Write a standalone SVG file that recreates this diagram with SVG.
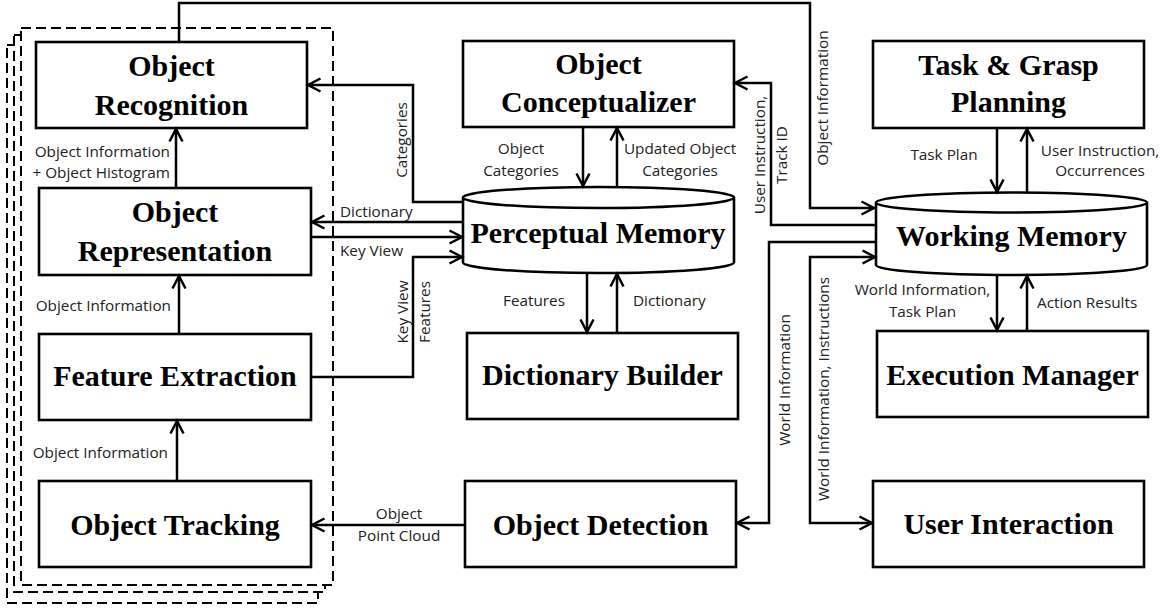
<svg xmlns="http://www.w3.org/2000/svg" width="1171" height="608" viewBox="0 0 1171 608">
<style>
.box{fill:#fff;stroke:#000;stroke-width:2.6}
.frame{fill:#fff;stroke:#000;stroke-width:2;stroke-dasharray:10,5}
.node{font-family:"Liberation Serif","Times New Roman",serif;font-weight:bold;font-size:30px;fill:#000;text-anchor:middle}
.lbl{font-family:"Open Sans","Noto Sans",sans-serif;font-size:15.3px;fill:#222}
.mid{text-anchor:middle}
.end{text-anchor:end}
.conn{fill:none;stroke:#000;stroke-width:2.5;marker-end:url(#arr)}
</style>
<defs>
<marker id="arr" markerUnits="userSpaceOnUse" markerWidth="20" markerHeight="20" viewBox="0 0 20 20" refX="14" refY="8" orient="auto-start-reverse">
<path d="M1.5,1.5 L14,8 L1.5,14.5" fill="none" stroke="#000" stroke-width="2.5"/>
</marker>
</defs>
<rect width="1171" height="608" fill="#fff"/>
<g id="stack">
<rect class="frame" x="7" y="45" width="311" height="558"/>
<rect class="frame" x="14" y="35" width="311" height="557"/>
<rect class="frame" x="21" y="28" width="312" height="557"/>
</g>
<g id="object-recognition">
<rect class="box" x="36" y="42" width="271" height="86"/>
<text class="node" x="171.5" y="76">Object</text>
<text class="node" x="171.5" y="115">Recognition</text>
</g>
<g id="object-representation">
<rect class="box" x="39" y="188" width="272" height="87"/>
<text class="node" x="175" y="222">Object</text>
<text class="node" x="175" y="261">Representation</text>
</g>
<g id="feature-extraction">
<rect class="box" x="39" y="334" width="272" height="86"/>
<text class="node" x="175" y="386">Feature Extraction</text>
</g>
<g id="object-tracking">
<rect class="box" x="39" y="481" width="272" height="86"/>
<text class="node" x="175" y="535">Object Tracking</text>
</g>
<g id="object-conceptualizer">
<rect class="box" x="463" y="41" width="271" height="86"/>
<text class="node" x="598.5" y="74">Object</text>
<text class="node" x="598.5" y="112">Conceptualizer</text>
</g>
<g id="perceptual-memory">
<path class="box" d="M463,197.5 V262.5 A135.5,10.5 0 0 0 734,262.5 V197.5 A135.5,10.5 0 0 0 463,197.5 A135.5,10.5 0 0 0 734,197.5"/>
<text class="node" x="598" y="243">Perceptual Memory</text>
</g>
<g id="dictionary-builder">
<rect class="box" x="467" y="333" width="271" height="86"/>
<text class="node" x="602.5" y="385">Dictionary Builder</text>
</g>
<g id="object-detection">
<rect class="box" x="465" y="481" width="271" height="86"/>
<text class="node" x="600.5" y="535">Object Detection</text>
</g>
<g id="task-grasp-planning">
<rect class="box" x="873" y="41" width="271" height="87"/>
<text class="node" x="1008.5" y="75">Task &amp; Grasp</text>
<text class="node" x="1008.5" y="112">Planning</text>
</g>
<g id="working-memory">
<path class="box" d="M876,202.5 V265 A135.5,10 0 0 0 1147,265 V202.5 A135.5,10 0 0 0 876,202.5 A135.5,10 0 0 0 1147,202.5"/>
<text class="node" x="1011.5" y="246">Working Memory</text>
</g>
<g id="execution-manager">
<rect class="box" x="877" y="331" width="271" height="86"/>
<text class="node" x="1012.5" y="385">Execution Manager</text>
</g>
<g id="user-interaction">
<rect class="box" x="873" y="481" width="271" height="86"/>
<text class="node" x="1008.5" y="534">User Interaction</text>
</g>
<g id="connectors">
<path class="conn" d="M179,42 V3 H810 V208 H874"/>
<path class="conn" d="M463,202 H413 V85 H308"/>
<path class="conn" d="M463,222 H312"/>
<path class="conn" d="M311,237 H462"/>
<path class="conn" d="M311,377 H413 V257 H462"/>
<path class="conn" d="M583,127 V186"/>
<path class="conn" d="M617,187 V128"/>
<path class="conn" d="M587,273 V332"/>
<path class="conn" d="M617,333 V274"/>
<path class="conn" d="M876,225 H771 V83 H735"/>
<path class="conn" d="M876,242 H769 V523 H737"/>
<path class="conn" d="M875,257 H810 V523 H872" style="marker-start:url(#arr)"/>
<path class="conn" d="M997,128 V192"/>
<path class="conn" d="M1027,193 V129"/>
<path class="conn" d="M997,275 V330"/>
<path class="conn" d="M1027,331 V276"/>
<path class="conn" d="M177,481 V421"/>
<path class="conn" d="M179,334 V276"/>
<path class="conn" d="M176,188 V129"/>
<path class="conn" d="M465,525 H312"/>
</g>
<g id="labels">
<text class="lbl end" x="170" y="157">Object Information</text>
<text class="lbl end" x="170" y="178">+ Object Histogram</text>
<text class="lbl end" x="171" y="311">Object Information</text>
<text class="lbl end" x="168" y="458">Object Information</text>
<text class="lbl" x="340" y="217">Dictionary</text>
<text class="lbl" x="340" y="256">Key View</text>
<text class="lbl mid" transform="translate(407,140) rotate(-90)">Categories</text>
<text class="lbl mid" transform="translate(408,312) rotate(-90)">Key View</text>
<text class="lbl mid" transform="translate(430,312) rotate(-90)">Features</text>
<text class="lbl mid" x="521" y="154">Object</text>
<text class="lbl mid" x="521" y="176">Categories</text>
<text class="lbl mid" x="680" y="154">Updated Object</text>
<text class="lbl mid" x="680" y="176">Categories</text>
<text class="lbl mid" x="534" y="306">Features</text>
<text class="lbl" x="633" y="306">Dictionary</text>
<text class="lbl mid" x="399" y="519">Object</text>
<text class="lbl mid" x="399" y="541">Point Cloud</text>
<text class="lbl mid" transform="translate(765,155) rotate(-90)">User Instruction,</text>
<text class="lbl mid" transform="translate(787,155) rotate(-90)">Track ID</text>
<text class="lbl mid" transform="translate(828,98) rotate(-90)">Object Information</text>
<text class="lbl mid" transform="translate(790,380) rotate(-90)">World Information</text>
<text class="lbl mid" transform="translate(829,389) rotate(-90)">World Information, Instructions</text>
<text class="lbl mid" x="944" y="160">Task Plan</text>
<text class="lbl mid" x="1100" y="156">User Instruction,</text>
<text class="lbl mid" x="1100" y="176">Occurrences</text>
<text class="lbl mid" x="922.5" y="295">World Information,</text>
<text class="lbl mid" x="922.5" y="317">Task Plan</text>
<text class="lbl" x="1037" y="308">Action Results</text>
</g>
</svg>
